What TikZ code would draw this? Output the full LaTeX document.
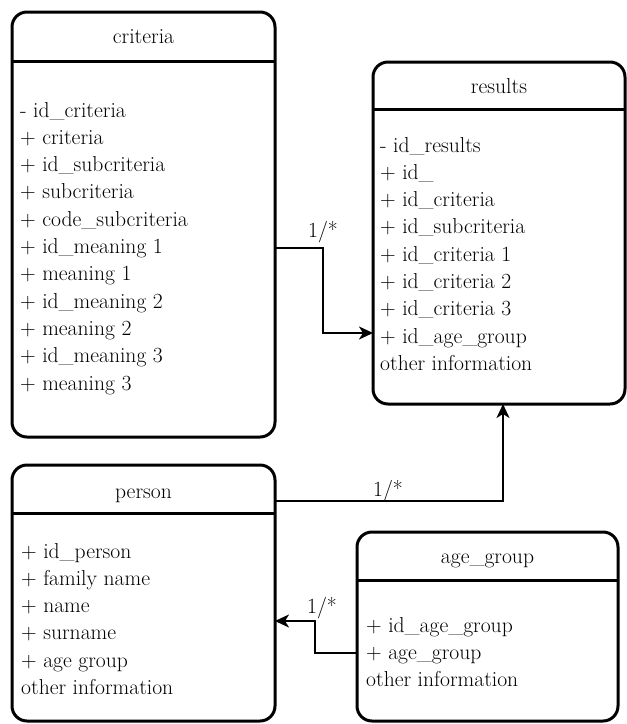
\documentclass[tikz,border=0pt]{standalone}
\usepackage{fontspec}
\usetikzlibrary{arrows.meta}
\begin{document}
\begin{tikzpicture}[x=1pt,y=-1pt,
  box/.style={draw, line width=3pt, rounded corners=15pt, inner sep=0pt, outer sep=0pt},
  hline/.style={line width=3pt},
  conn/.style={line width=2pt, -{Stealth[length=14pt,width=13pt,inset=4pt]}},
  txt/.style={anchor=base west, inner sep=0pt, font=\rmfamily\fontsize{21.6}{27}\selectfont},
  ttl/.style={anchor=base, inner sep=0pt, font=\rmfamily\fontsize{21.6}{27}\selectfont},
  lbl/.style={anchor=base, inner sep=0pt, font=\rmfamily\fontsize{21.6}{27}\selectfont}]
\useasboundingbox (0,0) rectangle (627,724);

% criteria
\node[box, minimum width=263pt, minimum height=425pt] (criteria) at (143.5,224.5) {};
\draw[hline] (criteria.west |- 0,61) -- (criteria.east |- 0,61);
\node[ttl] (criteriaT) at (143.5,43) {criteria};
\foreach \t [count=\i from 0] in {- id\_criteria,+ criteria,+ id\_subcriteria,+ subcriteria,+ code\_subcriteria,+ id\_meaning 1,+ meaning 1,+ id\_meaning 2,+ meaning 2,+ id\_meaning 3,+ meaning 3}
  \node[txt] (cr\i) at (20,117+27.3*\i) {\t};

% results
\node[box, minimum width=252pt, minimum height=342pt] (results) at (499,233) {};
\draw[hline] (results.west |- 0,109) -- (results.east |- 0,109);
\node[ttl] (resultsT) at (499,93) {results};
\foreach \t [count=\i from 0] in {- id\_results,+ id\_,+ id\_criteria,+ id\_subcriteria,+ id\_criteria 1,+ id\_criteria 2,+ id\_criteria 3,+ id\_age\_group,other information}
  \node[txt] (re\i) at (380,152+27.3*\i) {\t};

% person
\node[box, minimum width=263pt, minimum height=256pt] (person) at (143.5,593) {};
\draw[hline] (person.west |- 0,513) -- (person.east |- 0,513);
\node[ttl] (personT) at (143.5,498) {person};
\foreach \t [count=\i from 0] in {+ id\_person,+ family name,+ name,+ surname,+ age group,other information}
  \node[txt] (pe\i) at (21,558+27.3*\i) {\t};

% age_group
\node[box, minimum width=261pt, minimum height=189pt] (age) at (487.5,626.5) {};
\draw[hline] (age.west |- 0,580) -- (age.east |- 0,580);
\node[ttl] (ageT) at (487.5,563) {age\_group};
\foreach \t [count=\i from 0] in {+ id\_age\_group,+ age\_group,other information}
  \node[txt] (ag\i) at (366,632+27.3*\i) {\t};

% connectors
\draw[conn] ([yshift=-23.5pt]criteria.east) -- ++(48,0) coordinate (c1) |- ([yshift=-100pt]results.west);
\node[lbl] at (323,237) {1/*};

\draw[conn] ([yshift=92pt]person.east) -| ([xshift=4pt]results.south);
\node[lbl] at (388,496) {1/*};

\draw[conn] ([yshift=-26.5pt]age.west) -- ++(-42,0) coordinate (c2) |- ([yshift=-28pt]person.east);
\node[lbl] at (322,613) {1/*};
\end{tikzpicture}
\end{document}
